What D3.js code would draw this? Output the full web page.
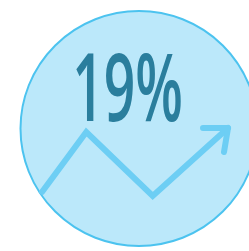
<!DOCTYPE html>
<html>
<head>
<meta charset="utf-8">
<script src="https://cdn.jsdelivr.net/npm/d3@7"></script>
<style>
  html, body { margin: 0; padding: 0; background: #ffffff; }
  svg { display: block; }
</style>
</head>
<body>
<svg id="chart" width="249" height="251"></svg>
<script>
// Headline figure
var percentValue = 19;
var percentLabel = percentValue + '%';

// Trend line under the figure (step along x, level on y)
var trendSteps = [0, 1, 2.5, 4.2];
var trendLevels = [0.6, 9.4, 0, 10];

var width = 249, height = 251;
var svg = d3.select('#chart');

// Badge circle
svg.append('ellipse')
    .attr('cx', 139)
    .attr('cy', 128.5)
    .attr('rx', 118.5)
    .attr('ry', 117.5)
    .style('fill', '#bbe8fa')
    .style('stroke', '#4cc3ef')
    .style('stroke-width', 2);

// Trend line
var x = d3.scaleLinear().domain([0, 4.2]).range([42, 228]);
var y = d3.scaleLinear().domain([0, 10]).range([196, 128]);

var points = trendSteps.map(function (s, i) {
    return [x(s), y(trendLevels[i])];
});

svg.append('path')
    .attr('d', d3.line()(points))
    .style('fill', 'none')
    .style('stroke', '#6dcef4')
    .style('stroke-width', 6)
    .style('stroke-linecap', 'round')
    .style('stroke-linejoin', 'miter');

// Arrow head at the last point
var tip = points[points.length - 1];
svg.append('path')
    .attr('d', d3.line()([[tip[0] - 25, tip[1]], tip, [tip[0] - 4, tip[1] + 24]]))
    .style('fill', 'none')
    .style('stroke', '#6dcef4')
    .style('stroke-width', 6)
    .style('stroke-linecap', 'round')
    .style('stroke-linejoin', 'round');

// Figure, fitted to its ink box (measured on a canvas)
var box = {x0: 76, x1: 181, y0: 53, y1: 122};
var fontFamily = '"Open Sans", sans-serif';
var fontWeight = 600;
var ctx = document.createElement('canvas').getContext('2d');
ctx.font = fontWeight + ' 100px ' + fontFamily;
var m = ctx.measureText(percentLabel);
var k = (box.y1 - box.y0) / (m.actualBoundingBoxAscent + m.actualBoundingBoxDescent);
var inkW = (m.actualBoundingBoxLeft + m.actualBoundingBoxRight) * k;
var sx = (box.x1 - box.x0) / inkW;

svg.append('text')
    .attr('transform', 'translate(' + (box.x0 + m.actualBoundingBoxLeft * k * sx) + ',' +
        (box.y1 - m.actualBoundingBoxDescent * k) + ') scale(' + sx + ',1)')
    .style('font-family', fontFamily)
    .style('font-weight', fontWeight)
    .style('font-size', (100 * k) + 'px')
    .style('fill', '#2a7e9d')
    .text(percentLabel);
</script>
</body>
</html>
